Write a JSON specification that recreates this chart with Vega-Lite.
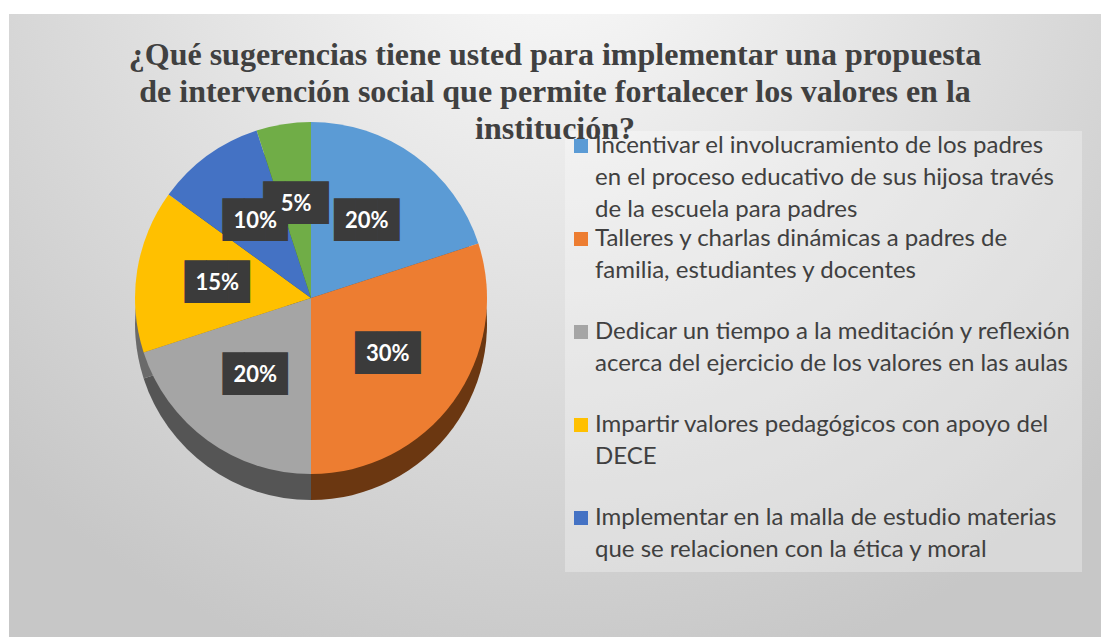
{
  "$schema": "https://vega.github.io/schema/vega-lite/v6.json",
  "width": 1092,
  "height": 623,
  "autosize": {"type": "none"},
  "padding": {"left": 9, "top": 14, "right": 0, "bottom": 0},
  "background": "#ffffff",
  "view": {
    "stroke": null,
    "fill": {
      "gradient": "radial",
      "x1": 0.5, "y1": 0.12, "r1": 0,
      "x2": 0.5, "y2": 0.12, "r2": 0.72,
      "stops": [
        {"offset": 0, "color": "#fbfbfb"},
        {"offset": 1, "color": "#c7c7c7"}
      ]
    }
  },
  "config": {
    "style": {"guide-label": {"lineHeight": 32}}
  },
  "title": {
    "text": [
      "¿Qué sugerencias tiene usted para implementar una propuesta",
      "de intervención social que permite fortalecer los valores en la",
      "institución?"
    ],
    "font": "Liberation Serif",
    "fontSize": 32,
    "fontWeight": "bold",
    "color": "#404040",
    "lineHeight": 37,
    "anchor": "middle",
    "frame": "group",
    "baseline": "top",
    "orient": "top",
    "offset": -132
  },
  "data": {
    "values": [
      {"categoria": "Incentivar el involucramiento de los padres\nen el proceso educativo de sus hijosa través\nde la escuela para padres", "valor": 0.20, "orden": 1},
      {"categoria": "Talleres y charlas dinámicas a padres de\nfamilia, estudiantes y docentes", "valor": 0.30, "orden": 2},
      {"categoria": "Dedicar un tiempo a la meditación y reflexión\nacerca del ejercicio de los valores en las aulas", "valor": 0.20, "orden": 3},
      {"categoria": "Impartir valores pedagógicos con apoyo del\nDECE", "valor": 0.15, "orden": 4},
      {"categoria": "Implementar en la malla de estudio materias\nque se relacionen con la ética y moral", "valor": 0.10, "orden": 5},
      {"categoria": "Otras sugerencias", "valor": 0.05, "orden": 6}
    ]
  },
  "encoding": {
    "theta": {"field": "valor", "type": "quantitative", "stack": true},
    "order": {"field": "orden", "type": "quantitative", "sort": "ascending"}
  },
  "layer": [
    {
      "mark": {"type": "arc", "x": 302, "y": 310, "outerRadius": 176},
      "encoding": {
        "color": {
          "field": "categoria", "type": "nominal", "legend": null,
          "scale": {
            "domain": [
              "Incentivar el involucramiento de los padres\nen el proceso educativo de sus hijosa través\nde la escuela para padres",
              "Talleres y charlas dinámicas a padres de\nfamilia, estudiantes y docentes",
              "Dedicar un tiempo a la meditación y reflexión\nacerca del ejercicio de los valores en las aulas",
              "Impartir valores pedagógicos con apoyo del\nDECE",
              "Implementar en la malla de estudio materias\nque se relacionen con la ética y moral",
              "Otras sugerencias"
            ],
            "range": ["#2f5a85", "#6b3711", "#555555", "#6a6a6a", "#24406e", "#3d6027"]
          }
        }
      }
    },
    {
      "mark": {"type": "arc", "x": 302, "y": 284, "outerRadius": 176},
      "encoding": {
        "color": {
          "field": "categoria", "type": "nominal",
          "scale": {
            "domain": [
              "Incentivar el involucramiento de los padres\nen el proceso educativo de sus hijosa través\nde la escuela para padres",
              "Talleres y charlas dinámicas a padres de\nfamilia, estudiantes y docentes",
              "Dedicar un tiempo a la meditación y reflexión\nacerca del ejercicio de los valores en las aulas",
              "Impartir valores pedagógicos con apoyo del\nDECE",
              "Implementar en la malla de estudio materias\nque se relacionen con la ética y moral",
              "Otras sugerencias"
            ],
            "range": ["#5b9bd5", "#ed7d31", "#a5a5a5", "#ffc000", "#4472c4", "#70ad47"]
          },
          "legend": {
            "orient": "none",
            "legendX": 556,
            "legendY": 117,
            "title": null,
            "values": [
              "Incentivar el involucramiento de los padres\nen el proceso educativo de sus hijosa través\nde la escuela para padres",
              "Talleres y charlas dinámicas a padres de\nfamilia, estudiantes y docentes",
              "Dedicar un tiempo a la meditación y reflexión\nacerca del ejercicio de los valores en las aulas",
              "Impartir valores pedagógicos con apoyo del\nDECE",
              "Implementar en la malla de estudio materias\nque se relacionen con la ética y moral"
            ],
            "labelExpr": "split(datum.label, '\\n')",
            "labelFont": "Lato",
            "labelFontSize": 24,
            "labelColor": "#404040",
            "labelBaseline": "alphabetic",
            "labelLimit": 0,
            "labelOffset": 2,
            "symbolType": "M-1,-2H1V0H-1Z",
            "symbolSize": 196,
            "symbolOffset": -6,
            "symbolStrokeWidth": 0,
            "symbolOpacity": 1,
            "gridAlign": "all",
            "rowPadding": 5,
            "padding": 10,
            "fillColor": "rgba(255,255,255,0.3)"
          }
        }
      }
    },
    {
      "mark": {
        "type": "text", "x": 302, "y": 284, "radius": 95,
        "text": "███", "font": "DejaVu Sans Mono", "fontSize": 36,
        "color": "#3b3b3b", "baseline": "middle", "align": "center"
      }
    },
    {
      "mark": {
        "type": "text", "x": 302, "y": 284, "radius": 95,
        "font": "Lato", "fontSize": 22, "fontWeight": "bold",
        "color": "#ffffff", "baseline": "middle", "align": "center"
      },
      "encoding": {
        "text": {"field": "valor", "type": "quantitative", "format": ".0%"}
      }
    }
  ],
  "resolve": {"scale": {"color": "independent"}, "legend": {"color": "independent"}}
}
